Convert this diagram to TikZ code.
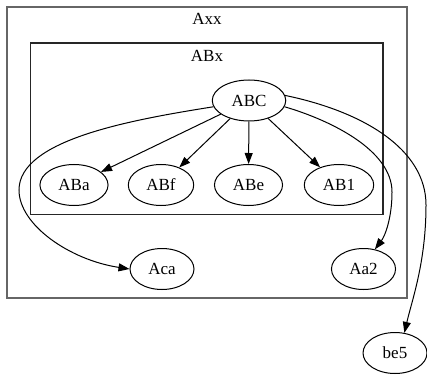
\documentclass[tikz,border=0pt]{standalone}
\usepackage{fontspec}
\setmainfont{Liberation Serif}
\usetikzlibrary{arrows.meta,shapes.geometric}
\tikzset{
  vert/.style={ellipse, draw, line width=1pt, minimum width=64pt, minimum height=41pt,
               inner xsep=8.5pt, inner ysep=0pt, font=\fontsize{17}{20}\selectfont},
  edge/.style={-{Triangle[length=11pt,width=8pt]}, line width=1pt},
  outerbox/.style={draw=black!60, line width=2pt},
  innerbox/.style={draw=black!85, line width=1.1pt},
  boxlabel/.style={font=\fontsize{17}{20}\selectfont, inner sep=0pt},
}

\begin{document}
\begin{tikzpicture}[x=1pt, y=-1pt]
  \useasboundingbox (0,0) rectangle (427,379);

  % clusters
  \draw[outerbox] (7,7) rectangle (407,298);
  \node[boxlabel] (Axx) at (207,19) {Axx};
  \draw[innerbox] (30.5,43) rectangle (383,214.5);
  \node[boxlabel] (ABx) at (207,56) {ABx};

  % nodes
  \node[vert] (ABC) at (249,100.5) {ABC};
  \node[vert] (ABa) at (74,185) {ABa};
  \node[vert] (ABf) at (161,185) {ABf};
  \node[vert] (ABe) at (248.5,185) {ABe};
  \node[vert] (AB1) at (339,185) {AB1};
  \node[vert] (Aca) at (162,269) {Aca};
  \node[vert] (Aa2) at (363.5,269) {Aa2};
  \node[vert] (be5) at (395,353) {be5};

  % edges inside ABx
  \draw[edge] (ABC) -- (ABa);
  \draw[edge] (ABC) -- (ABf);
  \draw[edge] (ABC) -- (ABe);
  \draw[edge] (ABC) -- (AB1);

  % long edges
  \draw[edge] (ABC.190) .. controls (130,120) and (19,140) .. (19,190)
              .. controls (19,225) and (70,260) .. (Aca.west);
  \draw[edge] (ABC.350) .. controls (330,120) and (392,150) .. (392,192)
              .. controls (392,218) and (385,236) .. (Aa2.60);
  \draw[edge] (ABC.8) .. controls (365,112) and (426,150) .. (426,205)
              .. controls (426,262) and (412,300) .. (be5.65);
\end{tikzpicture}
\end{document}
